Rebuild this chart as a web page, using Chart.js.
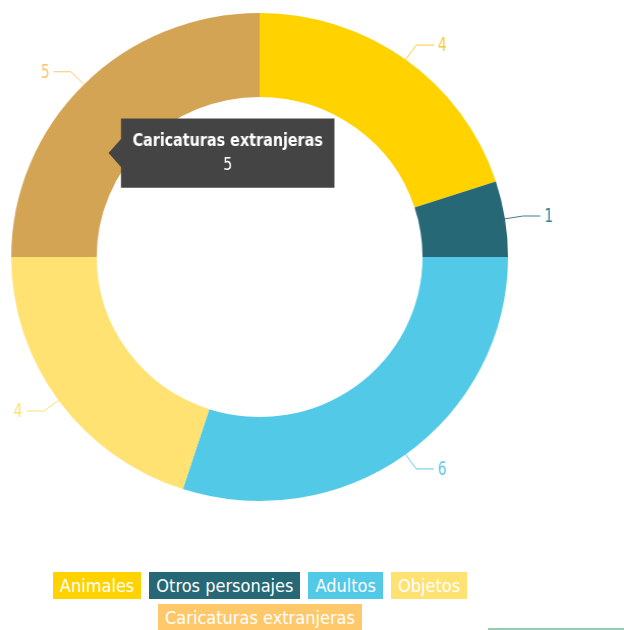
<!DOCTYPE html>
<html>
<head>
<meta charset="utf-8">
<script src="https://cdn.jsdelivr.net/npm/chart.js@4/dist/chart.umd.min.js"></script>
<style>
  html, body { margin: 0; padding: 0; background: #fff; }
  body { width: 624px; height: 630px; position: relative; overflow: hidden;
         font-family: 'Liberation Sans Narrow', 'DejaVu Sans Condensed', 'Roboto', sans-serif; }
  #wrap { position: absolute; left: 0; top: 0; width: 624px; height: 520px;
          transform: scale(1.018, 1); transform-origin: 0 0; }
  #legend { position: absolute; left: 40px; top: 572px; width: 440px;
            display: flex; flex-wrap: wrap; justify-content: center; gap: 5px 8px; }
  #legend span { display: inline-block; color: #fff; font-size: 18px; line-height: 27px;
                 height: 27px; padding: 0 7px; }
  #rule { position: absolute; left: 488px; top: 628px; width: 136px; height: 2px; background: #93ccb3; }
</style>
</head>
<body>
<div id="wrap"><canvas id="c"></canvas></div>
<div id="legend"></div>
<div id="rule"></div>
<script>
const categories = ['Animales', 'Otros personajes', 'Adultos', 'Objetos', 'Caricaturas extranjeras'];
const values = [4, 1, 6, 4, 5];
const colors = ['#FFD200', '#276877', '#53C9E8', '#FFE272', '#FFC96B'];
const hoverColors = ['#E6B800', '#1F5663', '#3BB5D6', '#F2CF55', '#D4A455'];
const labelColors = ['#FFC83A', '#3D7E8E', '#63C6E6', '#FFDF72', '#FFC76C'];
const FONT = "'Liberation Sans Narrow', 'DejaVu Sans Condensed', 'Roboto', sans-serif";

const legend = document.getElementById('legend');
categories.forEach((c, i) => {
  const s = document.createElement('span');
  s.textContent = c;
  s.style.background = colors[i];
  legend.appendChild(s);
});

const outLabels = {
  id: 'outLabels',
  afterDatasetsDraw(chart) {
    const ctx = chart.ctx;
    const meta = chart.getDatasetMeta(0);
    ctx.save();
    ctx.font = '19px ' + FONT;
    ctx.textBaseline = 'middle';
    ctx.lineWidth = 1;
    meta.data.forEach((arc, i) => {
      const p = arc.getProps(['x', 'y', 'startAngle', 'endAngle', 'outerRadius'], true);
      const a = (p.startAngle + p.endAngle) / 2;
      const r0 = p.outerRadius, r1 = p.outerRadius + 18;
      const x0 = p.x + r0 * Math.cos(a), y0 = p.y + r0 * Math.sin(a);
      const x1 = p.x + r1 * Math.cos(a), y1 = p.y + r1 * Math.sin(a);
      const right = Math.cos(a) >= 0;
      const x2 = x1 + (right ? 17 : -17);
      ctx.strokeStyle = labelColors[i];
      ctx.beginPath();
      ctx.moveTo(x0, y0); ctx.lineTo(x1, y1); ctx.lineTo(x2, y1);
      ctx.stroke();
      ctx.save();
      ctx.translate(x2 + (right ? 4 : -4), y1);
      ctx.scale(0.8, 1);
      ctx.fillStyle = labelColors[i];
      ctx.textAlign = right ? 'left' : 'right';
      ctx.fillText(String(values[i]), 0, 1);
      ctx.restore();
    });
    ctx.restore();
  }
};

const narrowTooltip = {
  id: 'narrowTooltip',
  beforeTooltipDraw(chart, args) {
    const ctx = chart.ctx;
    const ax = args.tooltip.caretX;
    ctx.save();
    ctx.translate(ax, 0);
    ctx.scale(0.87, 1);
    ctx.translate(-ax, 0);
  },
  afterTooltipDraw(chart) {
    chart.ctx.restore();
  }
};

Chart.Tooltip.positioners.pinned = function(items) {
  if (!items.length) return false;
  const el = items[0].element;
  const r = el.outerRadius;
  return { x: el.x - 0.631 * r, y: el.y - 0.426 * r };
};

const chart = new Chart(document.getElementById('c'), {
  type: 'doughnut',
  data: {
    labels: categories,
    datasets: [{
      data: values,
      backgroundColor: colors,
      hoverBackgroundColor: hoverColors,
      borderWidth: 0,
      hoverBorderWidth: 0,
      hoverOffset: 0
    }]
  },
  options: {
    responsive: true,
    maintainAspectRatio: false,
    animation: false,
    cutout: '65.6%',
    layout: { padding: { left: 11, right: 125, top: 13, bottom: 19 } },
    events: [],
    plugins: {
      legend: { display: false },
      tooltip: {
        position: 'pinned',
        xAlign: 'left',
        yAlign: 'center',
        backgroundColor: '#444444',
        cornerRadius: 0,
        caretSize: 14,
        caretPadding: 0,
        padding: { left: 13, right: 13, top: 12, bottom: 12 },
        displayColors: false,
        titleAlign: 'center',
        bodyAlign: 'center',
        titleFont: { family: FONT, size: 18, weight: 'bold' },
        bodyFont: { family: FONT, size: 18 },
        titleColor: '#fff',
        bodyColor: '#fff',
        titleMarginBottom: 2,
        callbacks: {
          title: (items) => items[0].label,
          label: (item) => String(item.raw)
        }
      }
    }
  },
  plugins: [outLabels, narrowTooltip]
});

chart.setActiveElements([{ datasetIndex: 0, index: 4 }]);
chart.tooltip.setActiveElements([{ datasetIndex: 0, index: 4 }], { x: 0, y: 0 });
chart.update();
</script>
</body>
</html>
